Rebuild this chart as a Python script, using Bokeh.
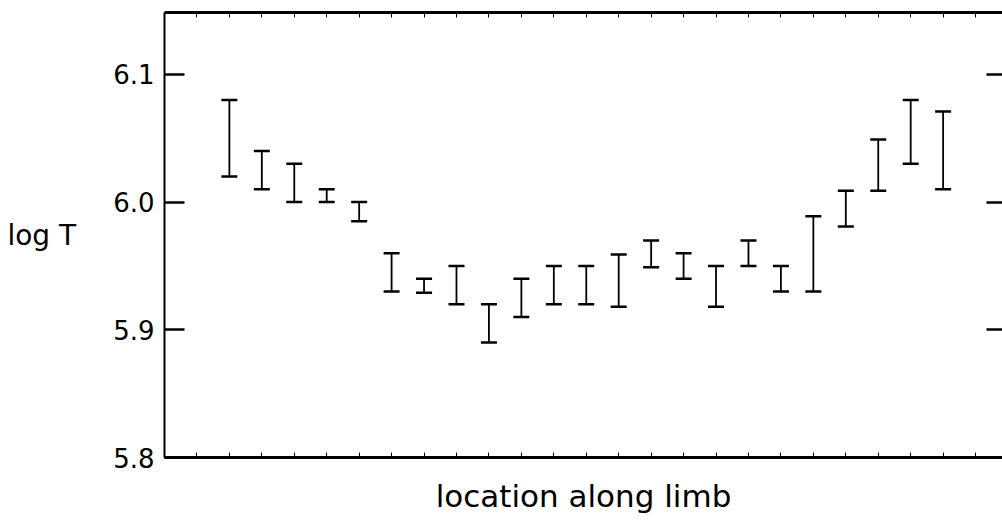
from bokeh.plotting import figure
from bokeh.models import (Range1d, LinearAxis, FixedTicker, PrintfTickFormatter,
                          CustomJSTickFormatter, Whisker, TeeHead, ColumnDataSource)
from bokeh.embed import file_html
from bokeh.resources import INLINE

# ---- data ----
location = [2, 3, 4, 5, 6, 7, 8, 9, 10, 11, 12, 13, 14, 15, 16, 17, 18, 19, 20, 21, 22, 23, 24]
logT_lower = [6.020, 6.010, 6.000, 6.000, 5.985, 5.930, 5.929, 5.920, 5.890, 5.910, 5.920, 5.920,
              5.918, 5.949, 5.940, 5.918, 5.950, 5.930, 5.930, 5.981, 6.009, 6.030, 6.010]
logT_upper = [6.080, 6.040, 6.030, 6.010, 6.000, 5.960, 5.940, 5.950, 5.920, 5.940, 5.950, 5.950,
              5.959, 5.970, 5.960, 5.950, 5.970, 5.950, 5.989, 6.009, 6.049, 6.080, 6.071]
y_ticks = [5.8, 5.9, 6.0, 6.1]
x_ticks = [1, 2, 3, 4, 5, 6, 7, 8, 9, 10, 11, 12, 13, 14, 15, 16, 17, 18, 19, 20, 21, 22, 23, 24, 25]
x_label = "location along limb"
y_label = "log T"

FONT = "DejaVu Sans"
blank = CustomJSTickFormatter(code="return ''")

p = figure(width=1002, height=520, output_backend="svg", toolbar_location=None,
           x_range=Range1d(0, 25.83), y_range=Range1d(5.8, 6.1485),
           x_axis_location=None, y_axis_location=None,
           min_border_left=164, min_border_top=12, min_border_right=0, min_border_bottom=63,
           background_fill_color="white", border_fill_color="white")
p.outline_line_color = None
p.xgrid.visible = False
p.ygrid.visible = False

# left axis with labels
ly = LinearAxis(ticker=FixedTicker(ticks=y_ticks), formatter=PrintfTickFormatter(format="%.1f"),
                axis_label=y_label)
ly.axis_line_width = 2
ly.axis_line_color = "black"
ly.major_tick_in = 20
ly.major_tick_out = 0
ly.major_tick_line_width = 2.5
ly.minor_tick_line_color = None
ly.major_label_text_font = FONT
ly.major_label_text_font_size = "26px"
ly.major_label_text_color = "black"
ly.major_label_standoff = 10
ly.axis_label_text_font = FONT
ly.axis_label_text_font_size = "28px"
ly.axis_label_text_font_style = "normal"
ly.axis_label_text_color = "black"
ly.axis_label_orientation = "horizontal"
ly.axis_label_standoff = 34
p.add_layout(ly, "left")

# right axis: ticks only
ry = LinearAxis(ticker=FixedTicker(ticks=y_ticks), formatter=blank)
ry.axis_line_color = None
ry.major_tick_in = 16
ry.major_tick_out = 0
ry.major_tick_line_width = 2.5
ry.minor_tick_line_color = None
ry.major_label_standoff = 0
p.add_layout(ry, "right")

# bottom axis: thick line, small inward ticks, label
bx = LinearAxis(ticker=FixedTicker(ticks=x_ticks), formatter=blank, axis_label=x_label)
bx.axis_line_width = 3
bx.axis_line_color = "black"
bx.major_tick_in = 5
bx.major_tick_out = 0
bx.major_tick_line_width = 1
bx.minor_tick_line_color = None
bx.major_label_standoff = 0
bx.axis_label_text_font = FONT
bx.axis_label_text_font_size = "31px"
bx.axis_label_text_font_style = "normal"
bx.axis_label_text_color = "black"
bx.axis_label_standoff = 20
p.add_layout(bx, "below")

# top axis: thick line, small inward ticks
tx = LinearAxis(ticker=FixedTicker(ticks=x_ticks), formatter=blank)
tx.axis_line_width = 3
tx.axis_line_color = "black"
tx.major_tick_in = 5
tx.major_tick_out = 0
tx.major_tick_line_width = 1
tx.minor_tick_line_color = None
tx.major_label_standoff = 0
p.add_layout(tx, "above")

src = ColumnDataSource(dict(x=location, lower=logT_lower, upper=logT_upper))
w = Whisker(source=src, base="x", lower="lower", upper="upper", dimension="height",
            line_color="black", line_width=1.8,
            upper_head=TeeHead(size=16, line_width=2.5, line_color="black"),
            lower_head=TeeHead(size=16, line_width=2.5, line_color="black"))
p.add_layout(w)

open("out.html", "w").write(file_html(p, INLINE))
